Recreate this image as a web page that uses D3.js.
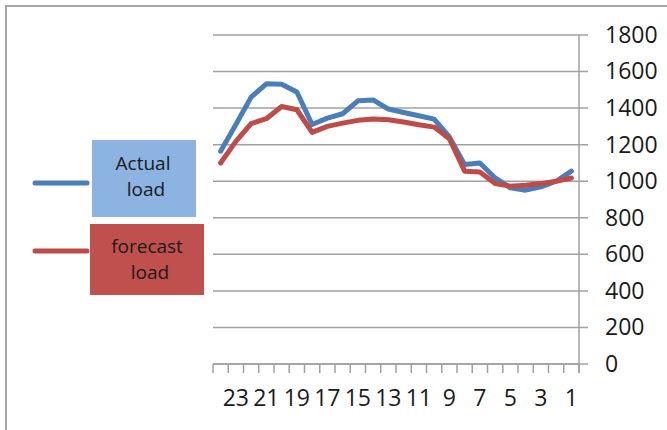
<!DOCTYPE html>
<html>
<head>
<meta charset="utf-8">
<script src="https://cdn.jsdelivr.net/npm/d3@7"></script>
<style>
    body { margin: 0; background: #fff; }
    svg text { font-family: "Open Sans", sans-serif; fill: #1a1a1a; }
</style>
</head>
<body>
<div id="chart"></div>
<script>
// Hours, read left to right (the category axis is reversed)
let hours = [24, 23, 22, 21, 20, 19, 18, 17, 16, 15, 14, 13, 12, 11, 10, 9, 8, 7, 6, 5, 4, 3, 2, 1];
let actualLoad = [1164, 1310, 1460, 1533, 1531, 1488, 1310, 1345, 1369, 1440, 1445, 1395, 1376, 1358, 1340, 1242, 1091, 1100, 1018, 964, 951, 969, 1000, 1055];
let forecastLoad = [1100, 1218, 1315, 1342, 1409, 1391, 1267, 1300, 1318, 1333, 1340, 1336, 1324, 1309, 1296, 1233, 1055, 1051, 987, 973, 978, 987, 1000, 1018];
let xLabels = [23, 21, 19, 17, 15, 13, 11, 9, 7, 5, 3, 1];
let yTicks = [0, 200, 400, 600, 800, 1000, 1200, 1400, 1600, 1800];
let seriesNames = [["Actual", "load"], ["forecast", "load"]];

let width = 667, height = 430;
let plot = {left: 213, right: 579, top: 35, bottom: 364};

let svg = d3.select("#chart").append("svg")
    .attr("width", width)
    .attr("height", height);

// Outer chart border (only top and left are in view)
svg.append("rect")
    .attr("x", 6).attr("y", 6)
    .attr("width", 700).attr("height", 460)
    .attr("fill", "none")
    .attr("stroke", "#a6a6a6")
    .attr("stroke-width", 2);

// Scales
let x = d3.scaleBand()
    .domain(hours)
    .range([plot.left, plot.right]);

let y = d3.scaleLinear()
    .domain([0, 1800])
    .range([plot.bottom, plot.top]);

let xc = d => x(d) + x.bandwidth() / 2;

// Gridlines
svg.append("g")
    .selectAll("line")
    .data(yTicks)
    .enter()
    .append("line")
    .attr("x1", plot.left)
    .attr("x2", plot.right + 9)
    .attr("y1", d => y(d))
    .attr("y2", d => y(d))
    .attr("stroke", "#a0a0a0")
    .attr("stroke-width", 1.5);

// Right value axis
let yAxis = d3.axisRight(y)
    .tickValues(yTicks)
    .tickFormat(d3.format("d"))
    .tickSize(0)
    .tickPadding(26);

let yAxisG = svg.append("g")
    .attr("class", "y-axis")
    .attr("transform", "translate(" + plot.right + ",0)")
    .call(yAxis);
yAxisG.select(".domain").remove();
yAxisG.selectAll("text")
    .attr("font-size", 23)
    .attr("font-family", "Open Sans, sans-serif")
    .attr("fill", "#1a1a1a");

svg.append("line")
    .attr("x1", plot.right).attr("x2", plot.right)
    .attr("y1", y(1800)).attr("y2", plot.bottom + 9)
    .attr("stroke", "#a0a0a0")
    .attr("stroke-width", 1.5);

// Category axis: ticks sit between categories
let tickEdges = hours.map(d => x(d)).concat([plot.right]);
svg.append("line")
    .attr("x1", plot.left).attr("x2", plot.right)
    .attr("y1", plot.bottom).attr("y2", plot.bottom)
    .attr("stroke", "#a0a0a0")
    .attr("stroke-width", 1.5);

svg.append("g")
    .selectAll("line")
    .data(tickEdges)
    .enter()
    .append("line")
    .attr("x1", d => d).attr("x2", d => d)
    .attr("y1", plot.bottom).attr("y2", plot.bottom + 9)
    .attr("stroke", "#a0a0a0")
    .attr("stroke-width", 1.5);

svg.append("g")
    .selectAll("text")
    .data(xLabels)
    .enter()
    .append("text")
    .attr("x", d => xc(d))
    .attr("y", 406)
    .attr("text-anchor", "middle")
    .attr("font-size", 23)
    .text(d => d);

// Lines
let line = d3.line()
    .x((d, i) => xc(hours[i]))
    .y(d => y(d));

let series = [
    {values: actualLoad, color: "#4a7ebb"},
    {values: forecastLoad, color: "#be4b48"}
];

series.forEach(s => {
    svg.append("path")
        .datum(s.values)
        .attr("d", line)
        .attr("fill", "none")
        .attr("stroke", s.color)
        .attr("stroke-width", 5)
        .attr("stroke-linejoin", "round")
        .attr("stroke-linecap", "round");
});

// Legend
let legend = [
    {name: seriesNames[0], color: "#4a7ebb", box: "#8db3e2", y: 183, bx: 92, by: 140, bw: 104, bh: 77, t1: 170, t2: 196, tx: 143},
    {name: seriesNames[1], color: "#be4b48", box: "#c0504d", y: 251, bx: 90, by: 224, bw: 114, bh: 71, t1: 253, t2: 279, tx: 147}
];

legend.forEach(l => {
    svg.append("line")
        .attr("x1", 35).attr("x2", 87)
        .attr("y1", l.y).attr("y2", l.y)
        .attr("stroke", l.color)
        .attr("stroke-width", 5)
        .attr("stroke-linecap", "round");

    svg.append("rect")
        .attr("x", l.bx).attr("y", l.by)
        .attr("width", l.bw).attr("height", l.bh)
        .attr("fill", l.box);

    svg.append("text")
        .attr("x", l.tx).attr("y", l.t1)
        .attr("text-anchor", "middle")
        .attr("font-size", 19)
        .text(l.name[0]);

    svg.append("text")
        .attr("x", l.tx + 3).attr("y", l.t2)
        .attr("text-anchor", "middle")
        .attr("font-size", 19)
        .text(l.name[1]);
});
</script>
</body>
</html>
